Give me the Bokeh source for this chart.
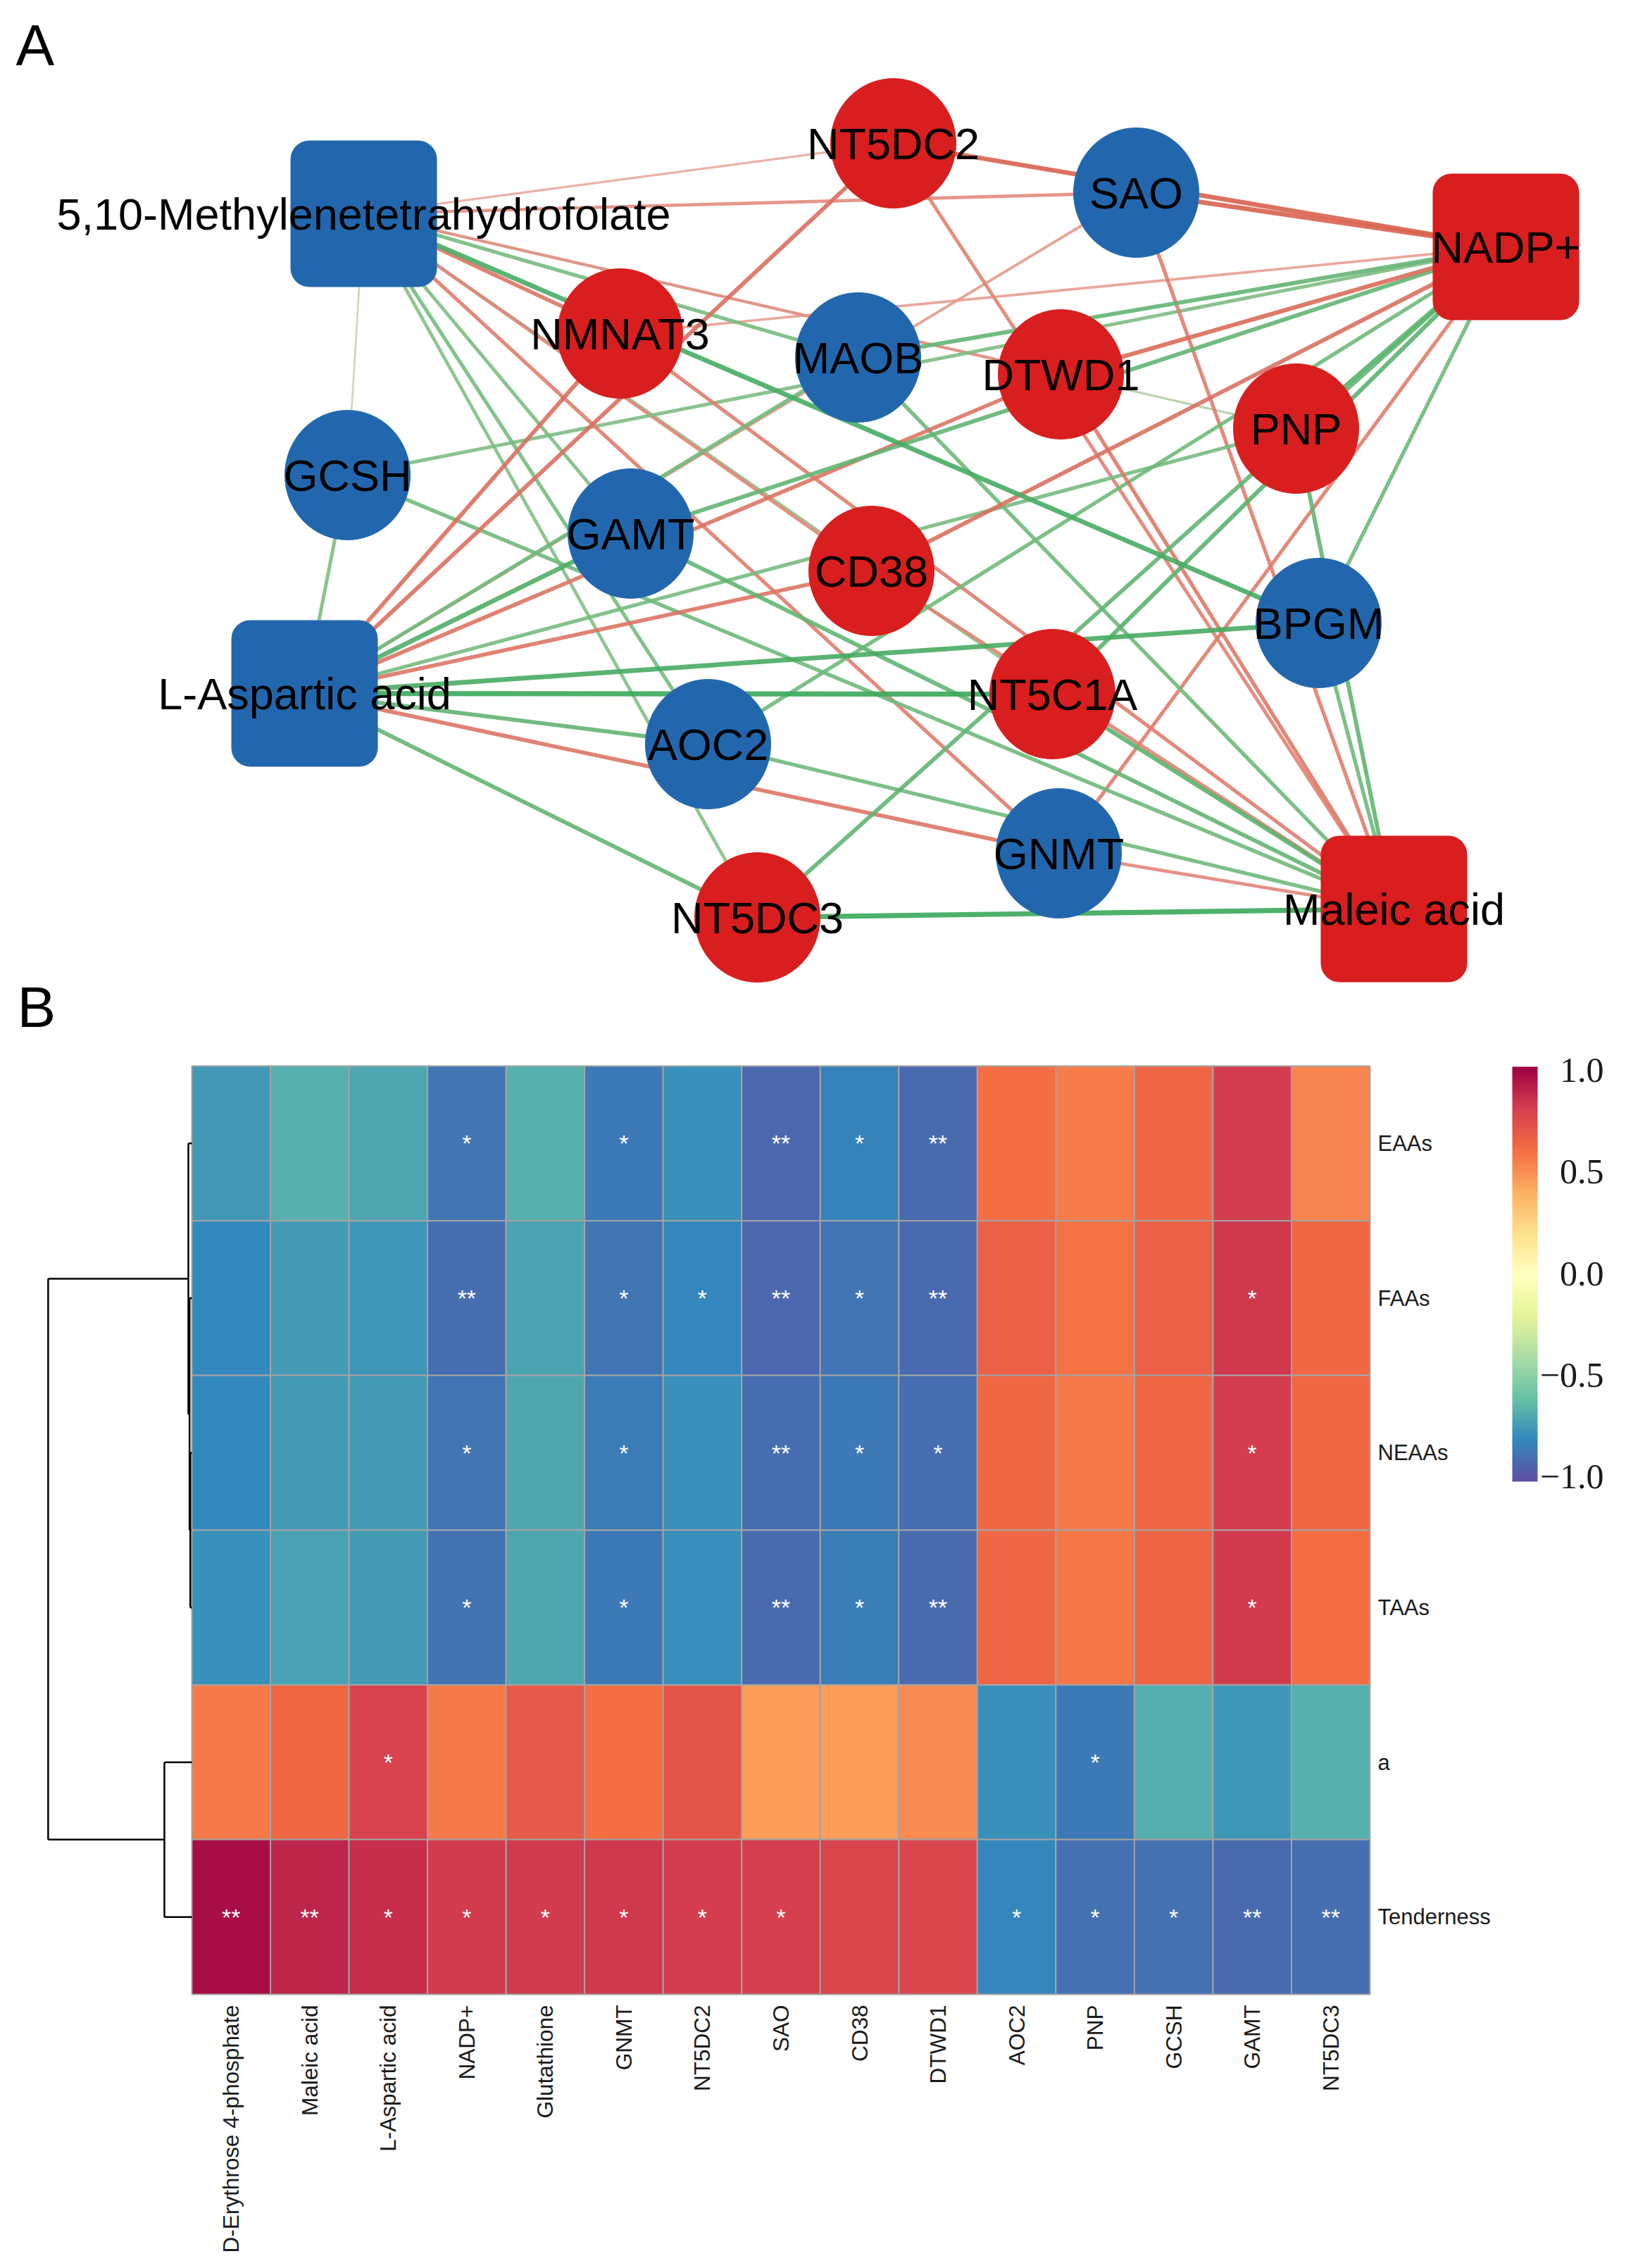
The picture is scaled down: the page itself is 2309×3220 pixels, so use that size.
import numpy as np
from bokeh.plotting import figure
from bokeh.models import ColumnDataSource, Range1d, LinearColorMapper, ColorBar, FixedTicker
from bokeh.layouts import column
from bokeh.core.properties import value
from bokeh.embed import file_html
from bokeh.resources import INLINE

# ============================ DATA ============================
# ---- Panel A: correlation network (node layout, in image pixels) ----
node_names = ["5,10-Methylenetetrahydrofolate", "NADP+", "L-Aspartic acid", "Maleic acid",
              "NT5DC2", "SAO", "NMNAT3", "MAOB", "DTWD1", "PNP", "GCSH", "GAMT",
              "CD38", "BPGM", "NT5C1A", "AOC2", "GNMT", "NT5DC3"]
node_x = [516, 2138, 432, 1979, 1268, 1613, 880, 1218, 1506, 1840, 493, 895,
          1237, 1872, 1494, 1005, 1503, 1075]
node_y = [303, 350, 984, 1290, 203, 273, 473, 507, 531, 608, 674, 757,
          810, 884, 985, 1056, 1211, 1302]
node_kind = ["metabolite"] * 4 + ["gene"] * 14
node_regulation = ["down", "up", "down", "up",
                   "up", "down", "up", "down", "up", "up", "down", "down",
                   "up", "down", "up", "down", "down", "up"]

edge_metabolites = ["5,10-Methylenetetrahydrofolate", "L-Aspartic acid", "NADP+", "Maleic acid"]
edge_genes = ["NT5DC2", "SAO", "NMNAT3", "MAOB", "DTWD1", "PNP", "GCSH", "GAMT",
              "CD38", "BPGM", "NT5C1A", "AOC2", "GNMT", "NT5DC3"]
r_mthf = [0.55, 0.68, 0.78, -0.74, 0.66, -0.56, -0.50, -0.72, 0.70, -0.88, -0.66, -0.74, 0.74, -0.70]
r_asp = [0.80, 0.62, 0.80, -0.76, 0.78, -0.74, -0.72, -0.86, 0.78, -0.88, -0.92, -0.80, 0.78, -0.80]
r_nadp = [0.86, 0.86, 0.60, -0.80, 0.82, -0.82, -0.72, -0.80, 0.80, -0.76, -0.82, -0.76, 0.74, -0.80]
r_maleic = [0.72, 0.74, 0.74, -0.76, 0.76, -0.80, -0.76, -0.80, 0.72, -0.76, -0.82, -0.76, 0.70, -0.92]

# ---- Panel B: correlation heatmap ----
hm_cols = ["D-Erythrose 4-phosphate", "Maleic acid", "L-Aspartic acid", "NADP+", "Glutathione",
           "GNMT", "NT5DC2", "SAO", "CD38", "DTWD1", "AOC2", "PNP", "GCSH", "GAMT", "NT5DC3"]
hm_rows = ["EAAs", "FAAs", "NEAAs", "TAAs", "a", "Tenderness"]
r_EAAs = [-0.74, -0.66, -0.69, -0.86, -0.66, -0.85, -0.77, -0.91, -0.82, -0.90, 0.60, 0.55, 0.63, 0.80, 0.53]
r_FAAs = [-0.79, -0.73, -0.75, -0.89, -0.70, -0.86, -0.80, -0.91, -0.86, -0.90, 0.65, 0.58, 0.65, 0.82, 0.62]
r_NEAAs = [-0.79, -0.73, -0.73, -0.86, -0.69, -0.84, -0.77, -0.89, -0.85, -0.89, 0.62, 0.56, 0.63, 0.80, 0.62]
r_TAAs = [-0.77, -0.71, -0.73, -0.87, -0.69, -0.85, -0.78, -0.90, -0.83, -0.90, 0.63, 0.57, 0.64, 0.81, 0.60]
r_a = [0.56, 0.62, 0.78, 0.56, 0.68, 0.60, 0.70, 0.45, 0.45, 0.50, -0.77, -0.85, -0.67, -0.75, -0.66]
r_Tenderness = [0.96, 0.88, 0.85, 0.81, 0.81, 0.82, 0.80, 0.79, 0.77, 0.76, -0.80, -0.88, -0.88, -0.90, -0.89]
sig_EAAs = ["", "", "", "*", "", "*", "", "**", "*", "**", "", "", "", "", ""]
sig_FAAs = ["", "", "", "**", "", "*", "*", "**", "*", "**", "", "", "", "*", ""]
sig_NEAAs = ["", "", "", "*", "", "*", "", "**", "*", "*", "", "", "", "*", ""]
sig_TAAs = ["", "", "", "*", "", "*", "", "**", "*", "**", "", "", "", "*", ""]
sig_a = ["", "", "*", "", "", "", "", "", "", "", "", "*", "", "", ""]
sig_Tenderness = ["**", "**", "*", "*", "*", "*", "*", "*", "", "", "*", "*", "*", "**", "**"]

# row dendrogram: (child, child, merge height in column widths)
dendro_merges = [("NEAAs", "TAAs", 0.02), ("FAAs", 0, 0.03), ("EAAs", 1, 0.045),
                 ("a", "Tenderness", 0.35), (2, 3, 1.83)]
cbar_ticks = [-1.0, -0.5, 0.0, 0.5, 1.0]
cbar_labels = ["\u22121.0", "\u22120.5", "0.0", "0.5", "1.0"]

# ============================ STYLE ============================
FONT = "Liberation Sans"
RED_NODE, BLUE_NODE = "#d81e1e", "#2267ad"
spectral = ["#5e4fa2", "#3288bd", "#66c2a5", "#abdda4", "#e6f598", "#ffffbf",
            "#fee08b", "#fdae61", "#f46d43", "#d53e4f", "#9e0142"]


def hex2rgb(h):
    return np.array([int(h[i:i + 2], 16) for i in (1, 3, 5)], dtype=float)


def rgb2hex(c):
    return "#%02x%02x%02x" % tuple(int(round(v)) for v in c)


def mix(c1, c2, t):
    return rgb2hex(hex2rgb(c1) * (1 - t) + hex2rgb(c2) * t)


anchors = [hex2rgb(c) for c in spectral]
pal = []
for k in range(256):
    p = k / 255 * (len(anchors) - 1)
    i = min(int(p), len(anchors) - 2)
    f = p - i
    pal.append(rgb2hex(anchors[i] * (1 - f) + anchors[i + 1] * f))

# ============================ PANEL A ============================
W = 2293
HA = 1478          # panel A figure also holds the "B" tag
pa = figure(width=W, height=HA, x_range=Range1d(0, W), y_range=Range1d(HA, 0),
            output_backend="svg", toolbar_location=None, min_border=0,
            outline_line_color=None, background_fill_color="white")
pa.axis.visible = False
pa.grid.visible = False

pos = {n: (x, y) for n, x, y in zip(node_names, node_x, node_y)}
ex0, ey0, ex1, ey1, ecol, ewid = [], [], [], [], [], []
for met, rs in zip(edge_metabolites, [r_mthf, r_asp, r_nadp, r_maleic]):
    for g, r in zip(edge_genes, rs):
        t = min(max((abs(r) - 0.5) / 0.42, 0), 1)
        if r > 0:
            c = mix("#ecb4aa", "#d5543f", t)
        else:
            c = mix("#c6d4ae", "#3aa85a", t)
        ex0.append(pos[met][0]); ey0.append(pos[met][1])
        ex1.append(pos[g][0]); ey1.append(pos[g][1])
        ecol.append(c); ewid.append(2.6 + 4.6 * t)
order = np.argsort(ewid)
esrc = ColumnDataSource(dict(x0=[ex0[i] for i in order], y0=[ey0[i] for i in order],
                             x1=[ex1[i] for i in order], y1=[ey1[i] for i in order],
                             c=[ecol[i] for i in order], w=[ewid[i] for i in order]))
pa.segment("x0", "y0", "x1", "y1", source=esrc, line_color="c", line_width="w", line_alpha=0.9)

gx = [x for x, k in zip(node_x, node_kind) if k == "gene"]
gy = [y for y, k in zip(node_y, node_kind) if k == "gene"]
gc = [RED_NODE if r == "up" else BLUE_NODE for r, k in zip(node_regulation, node_kind) if k == "gene"]
pa.ellipse(x=gx, y=gy, width=178, height=184, fill_color=gc, line_color=gc, line_width=1)

SQ = 207
mx = [x for x, k in zip(node_x, node_kind) if k == "metabolite"]
my = [y for y, k in zip(node_y, node_kind) if k == "metabolite"]
mc = [RED_NODE if r == "up" else BLUE_NODE for r, k in zip(node_regulation, node_kind) if k == "metabolite"]
pa.quad(left=[x - SQ / 2 for x in mx], right=[x + SQ / 2 for x in mx],
        top=[y - SQ / 2 for y in my], bottom=[y + SQ / 2 for y in my],
        fill_color=mc, line_color=mc, border_radius=26)

pa.text(x=node_x, y=node_y, text=node_names, text_font=value(FONT), text_font_size="63px",
        text_align="center", text_baseline="middle", text_color="black")
pa.text(x=[22, 24], y=[63, 1429], text=["A", "B"], text_font=value(FONT), text_font_size="82px",
        text_align="left", text_baseline="middle", text_color="black")

# ============================ PANEL B ============================
HB = 3204 - HA
TOPB = HA
HM_L, HM_R, HM_T, HM_B = 272.0, 1945.0, 1513.0, 2831.0
ncol, nrow = len(hm_cols), len(hm_rows)
cw = (HM_R - HM_L) / ncol
rh = (HM_B - HM_T) / nrow


def u(px):
    return (px - HM_L) / cw


def v(py):
    return (py - HM_T) / rh


pb = figure(width=W, height=HB, x_range=Range1d(u(0), u(W)), y_range=Range1d(v(TOPB + HB), v(TOPB)),
            output_backend="svg", toolbar_location=None, min_border=0,
            outline_line_color=None, background_fill_color="white")
pb.axis.visible = False
pb.grid.visible = False

mapper = LinearColorMapper(palette=pal, low=-1, high=1)
rows_vals = [r_EAAs, r_FAAs, r_NEAAs, r_TAAs, r_a, r_Tenderness]
rows_sig = [sig_EAAs, sig_FAAs, sig_NEAAs, sig_TAAs, sig_a, sig_Tenderness]
cx, cy, cv, cs = [], [], [], []
for i, (vals, sigs) in enumerate(zip(rows_vals, rows_sig)):
    for j, (val, s) in enumerate(zip(vals, sigs)):
        cx.append(j + 0.5); cy.append(i + 0.5); cv.append(val); cs.append(s)
hsrc = ColumnDataSource(dict(x=cx, y=cy, val=cv, sig=cs))
pb.rect("x", "y", width=1, height=1, source=hsrc,
        fill_color={"field": "val", "transform": mapper}, line_color="#a3a3a3", line_width=2)
pb.text("x", "y", text="sig", source=hsrc, text_font=value(FONT), text_font_size="34px",
        text_align="center", text_baseline="middle", text_color="white")

# column labels (rotated) and row labels
pb.text(x=[j + 0.5 for j in range(ncol)], y=[v(HM_B + 15)] * ncol, text=hm_cols, angle=np.pi / 2,
        text_font=value(FONT), text_font_size="31.5px", text_align="right", text_baseline="middle",
        text_color="#1a1a1a")
pb.text(x=[u(HM_R + 11)] * nrow, y=[i + 0.5 for i in range(nrow)], text=hm_rows,
        text_font=value(FONT), text_font_size="31px", text_align="left", text_baseline="middle",
        text_color="#1a1a1a")

# dendrogram
node_pos = {}
for i, rname in enumerate(hm_rows):
    node_pos[rname] = (i + 0.5, 0.0)
dx0, dy0, dx1, dy1 = [], [], [], []
for k, (a, b, h) in enumerate(dendro_merges):
    ya, ha = node_pos[a]
    yb, hb = node_pos[b]
    dx0 += [-ha, -hb, -h]; dy0 += [ya, yb, ya]
    dx1 += [-h, -h, -h]; dy1 += [ya, yb, yb]
    node_pos[k] = ((ya + yb) / 2, h)
pb.segment(dx0, dy0, dx1, dy1, line_color="black", line_width=2.5)

# colour bar: gradient from the library, labels right-aligned as in the picture
CB_L, CB_T, CB_B = 2147, 1514, 2103
cb = ColorBar(color_mapper=mapper, location=(CB_L, TOPB + HB - CB_B), width=36, height=CB_B - CB_T,
              padding=0, margin=0, ticker=FixedTicker(ticks=[]),
              major_label_text_font_size="0px",
              major_tick_line_color=None, minor_tick_line_color=None, bar_line_color=None,
              border_line_color=None, background_fill_color=None)
pb.add_layout(cb)
lab_y = [v(CB_T + 5 + (1 - t) / 2 * (CB_B - CB_T - 12)) for t in cbar_ticks]
pb.text(x=[u(2277)] * len(cbar_ticks), y=lab_y, text=cbar_labels,
        text_font=value("Liberation Serif"), text_font_size="50px",
        text_align="right", text_baseline="middle", text_color="#1a1a1a")

layout = column(pa, pb, spacing=0)
open("out.html", "w").write(file_html(layout, INLINE))
